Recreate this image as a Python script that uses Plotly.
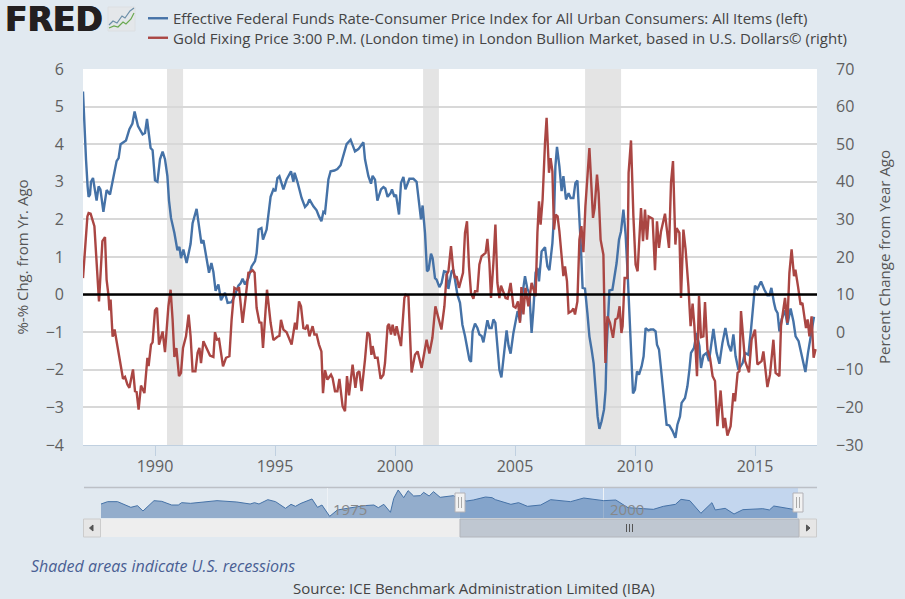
import plotly.graph_objects as go

# ---------- data ----------
START_YEAR = 1987
blue_name = "Effective Federal Funds Rate-Consumer Price Index for All Urban Consumers: All Items (left)"
red_name = "Gold Fixing Price 3:00 P.M. (London time) in London Bullion Market, based in U.S. Dollars© (right)"

blue_months = [0,.7,1.5,2.3,2.8,3.5,4,5,5.8,6.8,7.8,8.7,10.2,11.8,13.5,15.2,16.8,17.8,18.8,21.5,23.2,24.7,25.8,27.5,29.8,31,32,33.8,34.8,36,37.2,38.5,39.8,41,42.2,43,44,45.7,47.2,48.2,49,50.2,51.8,53.8,54.8,56.8,58,59.2,60.2,61.8,63,64.2,65.2,66.3,67.7,69,71,72.3,74.3,75.7,77.7,78.8,79.8,81,82.7,84.3,86,86.8,87.8,89.2,90,91.8,93.8,95.2,96.2,97.2,98.2,100.2,101.8,104,105.2,105.8,107.2,109.3,111,112.2,113.2,115.2,116.8,118,119.2,120.2,121,122.7,123.8,125.7,127.2,128.8,130.2,131.8,133.8,136,137.7,140.2,141,142.7,144,144.8,146,147.2,149,150.2,151.2,152.3,153.8,154.5,155.7,156.5,158,159,160.2,161.2,163.2,165.2,166.8,168.2,169,169.8,171,172,172.8,174,174.8,176,176.8,178.2,179.3,180.5,181.8,182.7,184.3,185.2,186.3,187.2,188.5,189.7,191,192.2,193.2,194,194.8,196,197.2,198.2,199.3,200.2,201.3,202.2,203.2,204.3,205.2,206.2,207.2,208.2,209.2,210.5,211.8,212.8,213.8,215.2,216.3,217.3,218.5,219.7,221,222.2,223.2,224.3,225.2,226.3,227.2,228,229.3,231,232.2,233.2,234.7,235.5,236.2,237,238.2,239.3,240.2,241.5,242.8,243.8,245.2,246.2,247.2,248.2,249,249.8,251,252.2,253.2,254.3,255.3,256.3,257.3,258.2,259.3,260.5,261.3,261.8,262.7,263.2,264.7,265.7,266.8,268,269,270.2,271.3,272.3,273.2,274,275,276,277,278,279.3,280.3,281.3,282.7,283.8,285.2,286.3,287,288,289.3,290.5,291.8,293.2,294.8,296.2,297.2,298.5,299.3,301,302.2,303.2,304,305.5,306.8,308.2,309,310.2,311.8,313,315.2,316.8,318.2,319.7,321.2,322.7,324,325.2,326.3,327.7,329.8,331,332.7,334,335.2,336,337.2,339,340.7,342.2,343.2,344.2,345.5,346.3,347.3,348.2,349.3,351,352.2,353.8,355.2,356.3,357.8,359.2,361.2,362.5,364,365.5]
blue_values = [5.4,4.3,3.6,2.88,2.6,2.66,3.0,3.1,2.8,2.5,2.88,2.8,2.2,2.78,2.66,3.15,3.55,3.63,4.0,4.1,4.4,4.55,4.87,4.48,4.26,4.3,4.67,3.9,3.84,3.04,3.0,3.6,3.8,3.6,3.15,2.5,2.04,1.64,1.18,1.27,.97,1.2,.84,1.35,1.9,2.28,1.82,1.36,1.45,1.0,.58,.84,.6,.1,.27,-.15,.05,-.22,-.2,-.05,.24,.3,.42,.27,.44,.75,.89,1.1,1.73,1.77,1.46,1.73,2.6,2.8,2.75,3.1,3.15,2.8,3.06,3.28,3.0,3.24,3.0,2.57,2.33,2.4,2.53,2.35,2.24,2.08,1.95,2.2,2.17,3.06,3.28,3.3,3.34,3.44,3.72,4.0,4.12,3.81,3.87,4.05,3.6,3.15,2.95,3.16,3.06,2.5,2.8,2.86,2.82,2.6,2.7,2.8,2.6,2.66,2.13,2.97,3.13,2.8,3.08,3.08,3.0,2.3,2.0,2.37,1.64,.62,.66,1.09,.97,.44,.4,.2,.31,.62,.6,.15,.62,.66,.31,0,-.22,-.8,-1.1,-1.46,-1.73,-1.79,-.98,-.77,-.89,-1.06,-1.1,-1.27,-.98,-.68,-.89,-.89,-.66,-.75,-1.37,-2.0,-2.2,-1.5,-.95,-1.37,-1.57,-1.02,-.66,-.44,-.7,0,.49,.15,.04,-1.02,-.4,.58,.71,.35,1.15,1.26,.75,.65,1.37,2.08,3.41,3.93,3.41,2.75,3.15,2.53,2.7,2.57,2.57,2.97,3.03,2.17,1.2,.18,.16,-.49,-1.11,-1.46,-1.82,-2.53,-3.24,-3.57,-3.37,-3.06,-2.53,-1.46,-.31,.11,.13,.49,.84,1.46,1.68,2.26,1.6,.58,-.49,-1.73,-2.63,-2.53,-2.04,-2.13,-1.91,-1.64,-.89,-.95,-.93,-.93,-.98,-1.33,-1.46,-2.13,-2.79,-3.46,-3.48,-3.63,-3.81,-3.46,-3.24,-2.88,-2.75,-2.44,-2.0,-1.55,-1.42,-1.02,-1.37,-1.95,-1.62,-1.55,-1.77,-.91,-1.55,-1.84,-1.29,-.89,-1.33,-1.51,-1.06,-1.64,-2.0,-1.82,-1.55,-1.6,-.93,-.22,.24,.15,.35,.13,-.02,-.02,.18,-.22,-.4,-.49,-.98,-.66,-.42,-.8,-.37,-.71,-1.11,-1.24,-1.6,-2.06,-1.55,-1.06,-.59]

red_months = [0,1,2.2,2.8,3.8,5.7,6.8,8,9.7,11,11.8,12.7,13.2,13.8,14.8,15.8,16.8,18.2,19.2,20,21,22.2,23.2,24,25,26,26.8,27.8,29,30.7,32.2,32.8,34,34.8,36,37,38,39.8,41,42.7,43.8,44.8,45.7,46.7,48,49,50,51.5,52.8,53.8,54.8,56.2,57.3,58.2,59,60.2,61.8,63.5,65.2,66,67,68,70,71.5,73.2,74.3,75.7,77.2,78,79.8,81.3,82.7,83.5,84.8,85.8,86.8,88.2,89.2,90,91,92,93.8,95.2,97.2,98.2,99,100.2,101.8,103.5,104.3,106,106.8,108,109,110.2,111.2,112.2,113.2,114.8,115.7,116.8,118,119.2,120,121,122.2,124,124.8,126,127.2,128.2,129.8,131,132,133,134.8,136.2,137.2,138.2,139.3,141,142.2,143.2,144.2,144.8,146,147.3,148.8,150.2,151,152.3,153,154,154.8,156,156.8,159,160.7,161.3,162.7,164.3,166,167.3,169.3,171.8,173.2,174.7,176.2,177.5,179.2,180.7,181.8,182.7,184,185.2,186,186.8,188,190,191,192,193,194,195.2,196,197.2,198.2,199.3,201.3,202.2,203.2,204,205.2,206.2,207.2,208.2,209,210.2,211.3,212.3,213.8,215.2,216.3,217.5,218.5,219.2,220.2,221.2,222.7,224.3,226.3,227.2,228,228.8,229.8,231,231.8,233,233.8,234.7,235.5,236.3,237.3,238.2,239.2,240.2,241,242,242.8,244.3,245.2,246,247.2,248.2,249.2,250.2,251.2,252.2,253.2,254.2,255,255.8,257,257.8,258.8,260.2,261.2,262.2,263.5,265,266.2,267.3,268.3,269.2,269.8,270.8,272.2,272.8,274,275.2,276.3,277.3,279,280,281,282,282.8,284.8,286,287,288,289,291,293,294,295,296.2,296.8,298.2,299,300.2,301.3,302.7,303.8,304.8,305.7,307,308,309,310.2,311,312.2,313.5,314.8,316,317.2,318.8,320.2,321,322.2,323.8,325.2,326,327.3,328.2,329,330.2,331,333,334.3,336,337.2,339.3,340.2,342.2,343.5,345.2,346.3,348.2,349,351,352.2,353.2,354.3,355.5,356.2,357.5,358.8,359.7,361.5,362.3,363.2,364.3,365.3,366.3]
red_values = [14.4,21,30.8,31.7,31.5,28.2,17.5,8.2,24.2,25.3,14,10,5.8,8.7,-1.2,.7,-2.4,-6.8,-9.1,-12.4,-11.9,-13.9,-14.8,-12.6,-9.9,-15.7,-15.9,-20.6,-14.2,-16.2,-6.8,-9,-3.3,-2.7,5.8,6.5,-3.3,.2,-5.3,6.9,11.3,3.3,-6.6,-4.2,-11.7,-10.8,-4.2,-1.1,4.7,-1.1,-10.4,-10.4,-5.5,-4.2,-8.2,-2.4,-4.2,-6.2,-6.6,0,-2,-1.8,-9.1,-6.8,-6.4,3.3,11.8,11.3,12,2.5,9.1,15.8,15.9,16.5,15.8,6.5,2.6,2.5,-4.2,4.2,11.3,2.5,-2.1,-1.2,-1,3.3,.7,0,-2,-3.3,2.5,.7,8.2,6.9,1.1,.9,2,-1.1,1.6,-.6,-.6,-3.3,-5.1,-16.2,-10.1,-12.6,-11.3,-12.2,-15.7,-15.7,-12.4,-19.7,-21,-11.7,-16.8,-8.6,-14.8,-10.8,-10.4,-15.7,-7.3,0,-.6,-6,-3.7,-6.8,-6.8,-12.4,-11.3,-8.2,1.6,2.2,-.6,2,-.9,1.6,-3.7,9.1,10,9.6,-10.7,-6,-5.1,-9.5,-2,-5.7,-1.5,6.9,4.2,.7,6.9,15.3,16.2,22.9,16.2,14.4,14.9,11.8,15.8,26.4,29.5,17.5,10.4,8.9,10.9,10.9,18,20.2,21.1,24.8,18.4,9.1,18.4,28.6,13.1,9.1,12.4,10.9,9.1,8.9,13.1,6.9,6.5,8.2,2.5,12,4.7,11.8,6.9,13.1,9.6,26.4,34.8,28.6,35.3,50.3,57,42.4,46.3,42.8,27.3,31.3,30.8,26.8,20.2,14.9,17.5,13.5,5.1,5.6,6.3,4.7,8.2,24.6,28.2,21.3,33.5,41.5,49,38.8,30.4,33,41.9,37,24.6,20.6,-8.2,4.2,2.5,-1.5,3.4,3.8,6.9,-.2,1.6,14.4,14.4,42.4,51,30.8,18,16.2,33,24.2,32.6,24.6,30.8,30.2,16.5,29.5,22.4,26.8,31.5,22.4,39.7,45.5,23.3,27.7,26.4,9.1,27.3,22,12.2,1.6,7.6,1.6,-11.7,9.6,-1.3,-1.1,8,-4.6,-6.8,-11.7,-13,-25,-15.5,-25.5,-22.8,-27.5,-25,-16.2,-18.4,-10.8,-10.4,5.6,-1.1,-7.6,-10.7,-2,.7,-8.6,-7.7,-5.1,-14.6,-11.3,-2,-10.8,-11.7,1.6,9.1,2.5,15.8,22,14.9,16.6,12.2,7.3,7.8,1.1,3.4,-1.1,4.2,-6.8,-4.5]

recession_starts = [1990.5, 2001.17, 2007.92]
recession_ends = [1991.17, 2001.83, 2009.42]

nav_years = [1954.5,1955.1,1956.0,1957.2,1957.8,1958.3,1959.3,1960,1960.9,1961.5,1961.8,1962.6,1965,1966.8,1968,1968.4,1968.8,1969.6,1970.3,1971.2,1971.7,1972.1,1972.6,1973.2,1973.6,1974.1,1974.5,1975.2,1975.9,1976.8,1978.3,1979.2,1979.6,1980.1,1980.7,1981,1981.4,1981.9,1982.3,1982.8,1983.4,1983.7,1984.2,1984.6,1985.2,1986.4,1987,1987.6,1988.2,1989.3,1989.9,1990.2,1991.6,1992.3,1993.1,1994.3,1995.2,1997,1998.2,2000,2001.1,2002.2,2004.5,2005.4,2006.5,2007,2007.8,2008.8,2009.8,2010.1,2011,2011.8,2012.6,2014.4,2015,2015.4,2017.1,2017.5]
nav_values = [1.14,2.33,2.33,-.56,.29,-2.43,2.84,2.5,.63,.63,1.82,1.48,2.84,2.16,1.14,1.82,1.14,3.35,2.33,-1.07,.97,-.05,1.48,2.84,3.7,-.56,.63,-5.15,-1.9,-1.07,.29,.63,-.73,.97,-3.1,4.03,8.29,4.37,7.95,5.22,5.39,7.1,5.22,7.44,4.54,5.39,3.5,2.67,3.18,4.71,4.37,3.35,.97,1.82,-.05,.63,3.35,2.33,4.2,2.84,3.18,-.73,-1.58,-.05,.97,3.52,2.84,-3.6,1.82,-1.9,-1.07,-3.96,-1.75,-1.24,-1.9,.12,-1.24,-1.9]
NAV_FLOOR = -6

left_ticks = [-4,-3,-2,-1,0,1,2,3,4,5,6]
right_ticks = [-30,-20,-10,0,10,20,30,40,50,60,70]
x_ticks = [1990,1995,2000,2005,2010,2015]
nav_ticks = [1975,2000]

# ---------- colours / page geometry ----------
BG = "#e1e9f0"; BLUE = "#4572a7"; RED = "#aa4643"; GRID = "#d8d8d8"; AXIS = "#c0d0e0"; TXT = "#555555"
FONT = "Open Sans"
W, H = 905, 599
L, R, T, B = 83, 817, 69, 537     # plot rectangle that holds main chart + navigator
def px(x): return (x - L) / (R - L)
def py(y): return (B - y) / (B - T)

shapes = []
def rect(x0, y0, x1, y1, fill, line=None, lw=1, layer="below"):
    shapes.append(dict(type="rect", xref="paper", yref="paper", x0=px(x0), x1=px(x1), y0=py(y0), y1=py(y1),
                       fillcolor=fill, line=dict(color=line or fill, width=lw if line else 0), layer=layer))
def seg(x0, y0, x1, y1, color, lw=1, layer="above"):
    shapes.append(dict(type="line", xref="paper", yref="paper", x0=px(x0), x1=px(x1), y0=py(y0), y1=py(y1),
                       line=dict(color=color, width=lw), layer=layer))
def poly(points, color, lw=1, fill=None, layer="above"):
    p = "M " + " L ".join(f"{px(a):.5f},{py(b):.5f}" for a, b in points)
    if fill: p += " Z"
    shapes.append(dict(type="path", xref="paper", yref="paper", path=p, fillcolor=fill or "rgba(0,0,0,0)",
                       line=dict(color=color, width=lw), layer=layer))

# white main plot background
rect(83, 69, 817, 445, "#ffffff")
# recessions
for s, e in zip(recession_starts, recession_ends):
    shapes.append(dict(type="rect", xref="x", yref="paper", x0=s, x1=e, y0=py(445), y1=py(69),
                       fillcolor="#e4e4e4", line=dict(width=0), layer="below"))
# zero line
shapes.append(dict(type="line", xref="paper", yref="y", x0=0, x1=1, y0=0, y1=0,
                   line=dict(color="#000000", width=2.5), layer="above"))
# navigator chrome
rect(460, 488, 798, 518, "#c3d6ee")
seg(84, 487.5, 817, 487.5, "#bcc0c6", 1.5, "below")
rect(100, 519, 460, 537, "#eeeeee")
rect(460, 519, 799, 537, "#bfc7d1", "#b2b5bb", 1)
rect(83.5, 519, 100.5, 537, "#e6e6e6", "#cccccc", 1)
rect(799.5, 519, 816.5, 537, "#e6e6e6", "#cccccc", 1)
poly([(93, 525), (93, 531), (89.5, 528)], "#555555", 1, "#555555")
poly([(806.5, 525), (806.5, 531), (810, 528)], "#555555", 1, "#555555")
for xx in (626.5, 629.5, 632.5):
    seg(xx, 524, xx, 532, "#555555", 1)
for hx in (460, 798):
    rect(hx - 5, 493, hx + 5, 512, "#f2f2f2", "#b2b1b6", 1, "above")
    seg(hx - 1.5, 497, hx - 1.5, 508, "#aaaaaa", 1)
    seg(hx + 1.5, 497, hx + 1.5, 508, "#aaaaaa", 1)
# FRED logo icon
rect(108, 7, 135, 31, "#e4e7ea", "#dcdfe2", 1, "above")
poly([(109, 25), (113, 21), (117, 23), (122, 16), (125, 18), (130, 11), (134, 8)], "#6c8fa8", 1.2)
poly([(109, 28), (114, 26), (118, 27), (123, 22), (126, 24), (131, 19), (134, 13)], "#6aa84f", 1.2)

fig = go.Figure()
fig.add_trace(go.Scatter(x=[START_YEAR + m / 12 for m in blue_months], y=blue_values, name=blue_name,
                         mode="lines", line=dict(color=BLUE, width=2.4), yaxis="y", xaxis="x", hoverinfo="skip"))
fig.add_trace(go.Scatter(x=[START_YEAR + m / 12 for m in red_months], y=red_values, name=red_name,
                         mode="lines", line=dict(color=RED, width=2.4), yaxis="y2", xaxis="x", hoverinfo="skip"))
fig.add_trace(go.Scatter(x=nav_years, y=[v - NAV_FLOOR for v in nav_values], mode="lines", showlegend=False,
                         line=dict(color=BLUE, width=1), fill="tozeroy", fillcolor="rgba(69,114,167,0.5)",
                         xaxis="x2", yaxis="y3", hoverinfo="skip"))

ticks_font = dict(family=FONT, size=16, color="#606060")
annotations = [
    dict(text="FRED", xref="paper", yref="paper", x=px(3), y=py(20), xanchor="left", yanchor="middle",
         showarrow=False, font=dict(family="DejaVu Sans", size=33, color="#231f20", weight=700,
                                    shadow="0.6px 0 0 #231f20, -0.6px 0 0 #231f20")),
    dict(text="Shaded areas indicate U.S. recessions", xref="paper", yref="paper", x=px(29), y=py(566),
         xanchor="left", yanchor="middle", showarrow=False,
         font=dict(family=FONT, size=16, color="#4a5f94", style="italic")),
    dict(text="Source: ICE Benchmark Administration Limited (IBA)", xref="paper", yref="paper", x=px(474), y=py(588),
         xanchor="center", yanchor="middle", showarrow=False, font=dict(family=FONT, size=15, color="#444444")),
]
for yr in nav_ticks:
    annotations.append(dict(text=str(yr), xref="x2", yref="paper", x=yr, y=py(509), xanchor="left", xshift=4,
                            yanchor="middle", showarrow=False, font=dict(family=FONT, size=15, color="#888888")))

main_bottom = py(445)
fig.update_layout(
    width=W, height=H, autosize=False,
    margin=dict(l=L, r=W - R, t=T, b=H - B, pad=0, autoexpand=False),
    paper_bgcolor=BG, plot_bgcolor=BG,
    font=dict(family=FONT, size=15, color=TXT),
    showlegend=True,
    legend=dict(x=px(133), y=py(2), xanchor="left", yanchor="top", bgcolor="rgba(0,0,0,0)",
                font=dict(family=FONT, size=15, color="#444444"), tracegroupgap=0),
    xaxis=dict(domain=[0, 1], range=[START_YEAR, START_YEAR + 734 / 24], anchor="y", tickmode="array", tickvals=x_ticks,
               ticks="outside", ticklen=10, tickcolor=AXIS, tickwidth=1, showline=True, linecolor=AXIS, linewidth=1,
               showgrid=False, zeroline=False, tickfont=ticks_font, fixedrange=True, ticklabelstandoff=-3),
    yaxis=dict(domain=[main_bottom, 1], range=[-4, 6], tickmode="array", tickvals=left_ticks, showgrid=True,
               gridcolor=GRID, gridwidth=1.5, zeroline=False, showline=False, ticks="", ticklabelstandoff=18,
               tickfont=ticks_font, fixedrange=True, automargin=False,
               title=dict(text="%-% Chg. from Yr. Ago", standoff=13, font=dict(family=FONT, size=15, color=TXT))),
    yaxis2=dict(domain=[main_bottom, 1], range=[-30, 70], overlaying="y", side="right", anchor="x", tickmode="array",
                tickvals=right_ticks, showgrid=False, zeroline=False, showline=False, ticks="", ticklabelstandoff=18,
                tickfont=ticks_font, fixedrange=True, automargin=False,
                title=dict(text="Percent Change from Year Ago", standoff=17, font=dict(family=FONT, size=15, color=TXT))),
    xaxis2=dict(domain=[px(101), px(797)], range=[1954.5, 2017.5], anchor="y3", tickmode="array", tickvals=nav_ticks,
                showticklabels=False, ticks="", showgrid=True, gridcolor="#eef2f6", gridwidth=1, zeroline=False,
                showline=False, fixedrange=True),
    yaxis3=dict(domain=[py(518), py(488)], range=[0, 15.3], anchor="x2", visible=False, fixedrange=True),
    shapes=shapes, annotations=annotations,
)

fig.write_html("out.html", config=dict(displayModeBar=False),
               post_script="document.body.style.margin='0';document.body.style.background='#e1e9f0';document.body.style.overflow='hidden';"
                           "document.querySelectorAll('.legendlines path').forEach(function(p){p.setAttribute('d','M15,0h20');});"
                           "var t=document.querySelectorAll('.legend .traces');"
                           "if(t.length>1){var m=/translate\\(([^,]+),\\s*([^)]+)\\)/.exec(t[1].getAttribute('transform'));"
                           "if(m){t[1].setAttribute('transform','translate('+m[1]+','+(parseFloat(m[2])-3)+')');}}")
